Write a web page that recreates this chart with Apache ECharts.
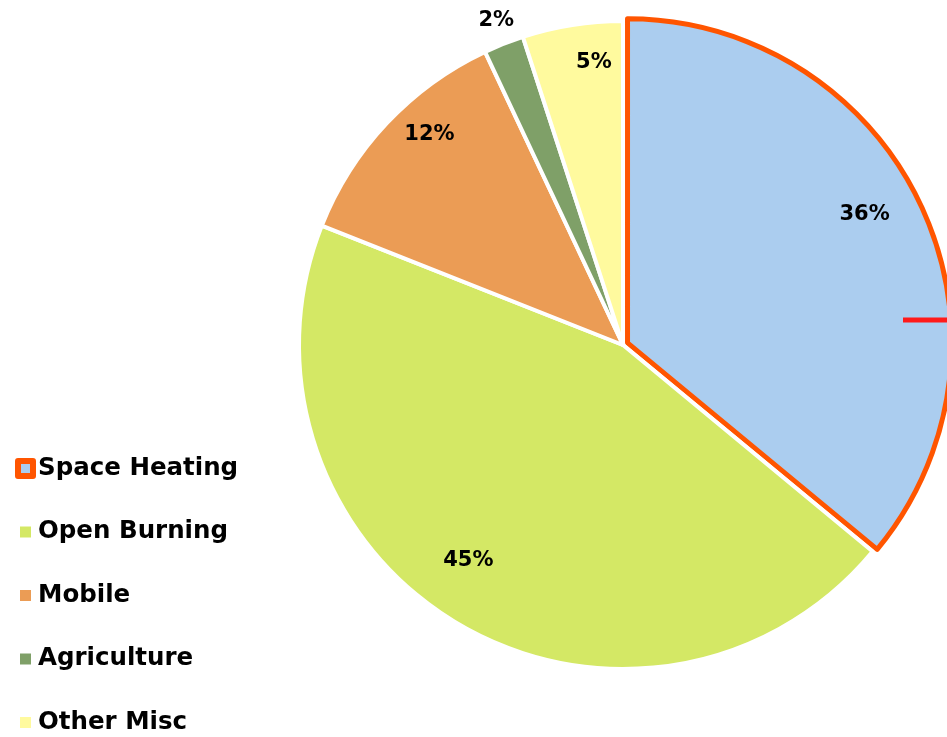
<!DOCTYPE html>
<html>
<head>
<meta charset="utf-8">
<script src="https://cdn.jsdelivr.net/npm/echarts@6/dist/echarts.min.js"></script>
<style>
html,body{margin:0;padding:0;background:#fff;}
#chart{width:947px;height:737px;}
</style>
</head>
<body>
<div id="chart"></div>
<script>
// Data
var categories = ['Space Heating', 'Open Burning', 'Mobile', 'Agriculture', 'Other Misc'];
var shares = [36, 45, 12, 2, 5];
var colors = ['#ABCDEF', '#D4E865', '#EB9C55', '#7FA068', '#FFFA9E'];

var FONT = 'DejaVu Sans';
var CENTER = [623, 345];
var R = 324;

var mainData = categories.map(function (c, i) {
  var d = { name: c, value: shares[i], itemStyle: { color: colors[i] } };
  if (i === 0) { d.itemStyle.borderColor = '#FF5500'; d.itemStyle.borderWidth = 5; d.selected = true; }
  return d;
});

// one transparent ring per label, placing each label like the reference's "best fit"
function labelSeries(idx, midR, startAngle, dy) {
  return {
    type: 'pie',
    silent: true,
    center: CENTER,
    radius: [midR - 5, midR + 5],
    startAngle: startAngle,
    clockwise: true,
    avoidLabelOverlap: false,
    legendHoverLink: false,
    z: 5,
    itemStyle: { color: 'rgba(0,0,0,0)', borderWidth: 0 },
    emphasis: { disabled: true },
    label: {
      position: 'inside',
      offset: [0, dy],
      formatter: function (p) { return p.dataIndex === idx ? p.value + '%' : ''; },
      fontFamily: FONT, fontWeight: 'bold', fontSize: 21, color: '#000'
    },
    labelLine: { show: false },
    data: categories.map(function (c, i) { return { name: c + ' ', value: shares[i] }; })
  };
}

var chart = echarts.init(document.getElementById('chart'), null, { renderer: 'canvas' });
chart.setOption({
  animation: false,
  backgroundColor: '#ffffff',
  legend: {
    orient: 'vertical',
    left: 15,
    top: 456,
    height: 320,
    padding: 0,
    icon: 'rect',
    itemWidth: 15,
    itemHeight: 15,
    itemGap: 38.5,
    selectedMode: false,
    textStyle: { fontFamily: FONT, fontWeight: 'bold', fontSize: 24.5, color: '#000', lineHeight: 24 },
    data: categories.map(function (c, i) {
      return i === 0
        ? { name: c, itemStyle: { borderColor: '#FF5500', borderWidth: 6 } }
        : { name: c, itemStyle: { borderColor: '#ffffff', borderWidth: 4 } };
    })
  },
  series: [
    {
      type: 'pie',
      center: CENTER,
      radius: [0, R],
      startAngle: 90,
      clockwise: true,
      selectedMode: 'single',
      selectedOffset: 5,
      avoidLabelOverlap: false,
      itemStyle: { borderColor: '#ffffff', borderWidth: 4 },
      emphasis: { disabled: true },
      select: { itemStyle: { borderColor: '#FF5500', borderWidth: 5 } },
      label: { show: false },
      labelLine: { show: false },
      data: mainData
    },
    labelSeries(0, 273, 93.7, 3),
    labelSeries(1, 262, 84.9, 0),
    labelSeries(2, 288, 84.9, 7),
    labelSeries(3, 349, 89.5, 4),
    labelSeries(4, 285, 86.8, 4)
  ],
  graphic: [
    { type: 'line', z: 100, shape: { x1: 903, y1: 320, x2: 947, y2: 320 }, style: { stroke: '#FF1A1A', lineWidth: 5 } }
  ]
});
</script>
</body>
</html>
